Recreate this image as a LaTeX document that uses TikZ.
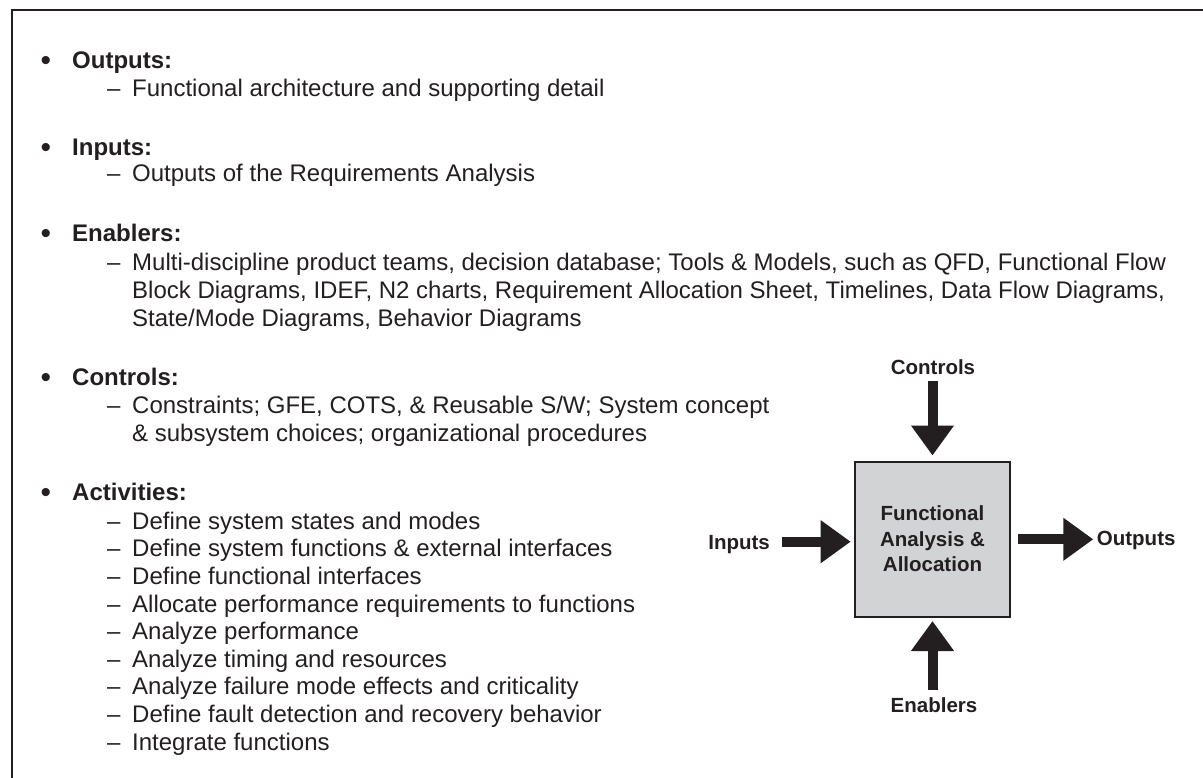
\documentclass[tikz,border=0pt]{standalone}
\usepackage{fontspec}
\setmainfont{Liberation Sans}
\usetikzlibrary{arrows.meta}
\definecolor{ink}{HTML}{231F20}
\definecolor{boxgray}{HTML}{D1D3D4}
\tikzset{
  body/.style={anchor=base west, inner sep=0pt, text=ink, font=\fontsize{24}{27}\selectfont},
  headtxt/.style={anchor=base west, inner sep=0pt, text=ink, font=\fontsize{24}{27}\selectfont\bfseries},
  bul/.style={anchor=base, inner sep=0pt, text=ink, font=\fontsize{30}{30}\selectfont, yshift=-2.4pt},
  dashmark/.style={anchor=base west, inner sep=0pt, text=ink, font=\fontsize{24}{27}\selectfont},
  lbl/.style={inner sep=0pt, text=ink, font=\fontsize{20.5}{25}\selectfont\bfseries},
  fabox/.style={draw=ink, line width=2pt, fill=boxgray, minimum size=155pt, inner sep=0pt,
    align=center, text=ink, font=\fontsize{20.5}{25.5}\selectfont\bfseries},
  bigarrow/.style={draw=ink, line width=10pt, -{Triangle[length=30pt,width=41pt]}},
  frameline/.style={draw=ink, line width=2.5pt},
}
\begin{document}
\begin{tikzpicture}[x=1pt,y=-1pt]
\useasboundingbox (0,0) rectangle (1203,778);
% frame
\draw[frameline] (12,778) -- (12,10) -- (1203,10);

% Outputs
\node[bul] (b1) at (46,68.5) {•};
\node[headtxt] (h1) at (72,68.5) {Outputs:};
\node[dashmark] (d1) at (107,96.8) {–};
\node[body] (s1) at (132,96.8) {Functional architecture and supporting detail};

% Inputs
\node[bul] (b2) at (46,155.2) {•};
\node[headtxt] (h2) at (72,155.2) {Inputs:};
\node[dashmark] (d2) at (107,181.8) {–};
\node[body] (s2) at (132,181.8) {Outputs of the Requirements Analysis};

% Enablers
\node[bul] (b3) at (46,241.2) {•};
\node[headtxt] (h3) at (72,241.2) {Enablers:};
\node[dashmark] (d3) at (107,270.2) {–};
\node[body] (s3a) at (132,270.2) {Multi-discipline product teams, decision database; Tools \& Models, such as QFD, Functional Flow};
\node[body] (s3b) at (132,298.5) {Block Diagrams, IDEF, N2 charts, Requirement Allocation Sheet, Timelines, Data Flow Diagrams,};
\node[body] (s3c) at (132,326.8) {State/Mode Diagrams, Behavior Diagrams};

% Controls
\node[bul] (b4) at (46,385.2) {•};
\node[headtxt] (h4) at (72,385.2) {Controls:};
\node[dashmark] (d4) at (107,413.5) {–};
\node[body] (s4a) at (132,413.5) {Constraints; GFE, COTS, \& Reusable S/W; System concept};
\node[body] (s4b) at (132,441.8) {\& subsystem choices; organizational procedures};

% Activities
\node[bul] (b5) at (46,500.2) {•};
\node[headtxt] (h5) at (72,500.2) {Activities:};
\foreach \t [count=\i] in {Define system states and modes,
  Define system functions \& external interfaces,
  Define functional interfaces,
  Allocate performance requirements to functions,
  Analyze performance,
  Analyze timing and resources,
  Analyze failure mode effects and criticality,
  Define fault detection and recovery behavior,
  Integrate functions}{
  \node[dashmark] (ad\i) at (107,{529.2+27.6*(\i-1)}) {–};
  \node[body] (a\i) at (132,{529.2+27.6*(\i-1)}) {\t};
}

% IDEF0 block
\node[fabox] (box) at (932.5,539) {Functional\\Analysis \&\\Allocation};
\node[lbl, anchor=base] (ctl) at (933,374) {Controls};
\node[lbl, anchor=base east] (ins) at (770,549) {Inputs};
\node[lbl, anchor=base west] (outs) at (1096.7,545.6) {Outputs};
\node[lbl, anchor=base] (ens) at (934,712.3) {Enablers};

\coordinate (inY) at (0,541.7);
\coordinate (outY) at (0,539.3);

\draw[bigarrow, shorten <=7pt, shorten >=5pt] (ctl.south -| box.north) -- (box.north);
\draw[bigarrow, shorten <=7pt, shorten >=3.5pt] (ens.north -| box.south) -- (box.south);
\draw[bigarrow, shorten <=11.7pt, shorten >=3.3pt] (ins.east |- inY) -- (box.west |- inY);
\draw[bigarrow, shorten <=7.3pt, shorten >=3.4pt] (box.east |- outY) -- (outs.west |- outY);
\end{tikzpicture}
\end{document}
